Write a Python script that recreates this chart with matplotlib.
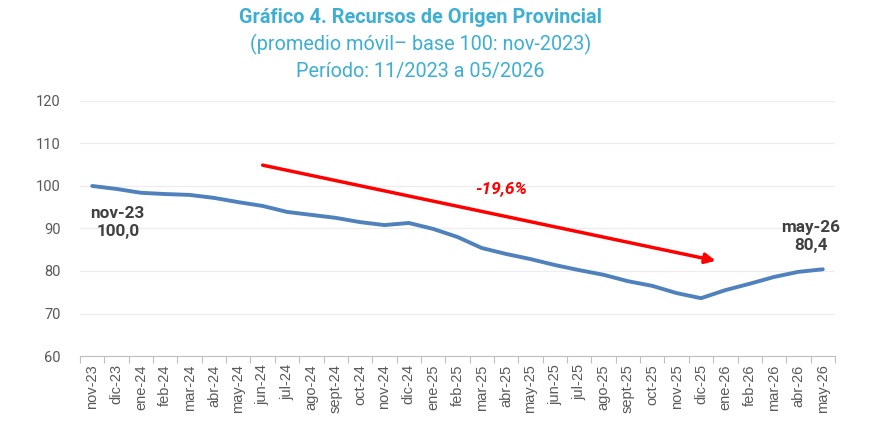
import matplotlib
matplotlib.use("Agg")
import matplotlib.pyplot as plt
import numpy as np

plt.rcParams['font.family'] = ['Roboto', 'DejaVu Sans']

# datos
meses = ['nov-23', 'dic-23', 'ene-24', 'feb-24', 'mar-24', 'abr-24', 'may-24',
         'jun-24', 'jul-24', 'ago-24', 'sept-24', 'oct-24', 'nov-24', 'dic-24',
         'ene-25', 'feb-25', 'mar-25', 'abr-25', 'may-25', 'jun-25', 'jul-25',
         'ago-25', 'sept-25', 'oct-25', 'nov-25', 'dic-25', 'ene-26', 'feb-26',
         'mar-26', 'abr-26', 'may-26']
indice = [100.0, 99.3, 98.4, 98.1, 97.9, 97.2, 96.2, 95.3, 93.9, 93.2, 92.5,
          91.5, 90.8, 91.3, 89.9, 88.0, 85.4, 84.0, 82.8, 81.4, 80.2, 79.1,
          77.6, 76.5, 74.8, 73.6, 75.5, 77.0, 78.6, 79.8, 80.4]
variacion = '-19,6%'

AZUL = '#4F81BD'
TITULO = '#3CAFD2'
GRIS = '#595959'

fig = plt.figure(figsize=(8.83, 4.26), dpi=100)
ax = fig.add_axes([0.0906, 0.1643, 0.855, 0.5987])

x = np.arange(len(meses))
ax.plot(x, indice, color=AZUL, lw=2.8, solid_joinstyle='round', solid_capstyle='round', zorder=3)

ax.set_xlim(-0.5, len(meses) - 0.5)
ax.set_ylim(60, 120)
ax.set_yticks(range(60, 121, 10))
ax.tick_params(axis='y', length=0, labelsize=10.5, labelcolor=GRIS, pad=14)
ax.set_xticks(x)
ax.set_xticklabels(meses, rotation=90, fontsize=10.5, color=GRIS, family='Liberation Sans')
ax.tick_params(axis='x', length=0, pad=6)
ax.set_xticks(np.arange(-0.5, len(meses)), minor=True)
ax.tick_params(axis='x', which='minor', length=5, color='#BFBFBF', width=0.8)

ax.grid(axis='y', color='#EDEDED', lw=0.9)
ax.set_axisbelow(True)
for s in ['top', 'right', 'left']:
    ax.spines[s].set_visible(False)
ax.spines['bottom'].set_color('#BFBFBF')

# flecha de tendencia
ax.annotate('', xy=(25.6, 82.4), xytext=(7.0, 104.9),
            arrowprops=dict(arrowstyle='-|>,head_length=0.6,head_width=0.3',
                            color='#FF0000', lw=2.5, shrinkA=0, shrinkB=0))
ax.text(16.8, 99.4, variacion, color='#FF0000', fontsize=12.5, fontweight='bold',
        fontstyle='italic', ha='center', va='center')

# etiquetas extremos
ax.text(1.05, 91.4, f"{meses[0]}\n{indice[0]:.1f}".replace('.', ','), ha='center', va='center',
        fontsize=12.3, fontweight='bold', color='#404040', linespacing=1.2)
ax.text(29.5, 88.1, f"{meses[-1]}\n{indice[-1]:.1f}".replace('.', ','), ha='center', va='center',
        fontsize=12.3, fontweight='bold', color='#404040', linespacing=1.2)

fig.text(0.476, 0.96, 'Gráfico 4. Recursos de Origen Provincial', ha='center', va='center',
         fontsize=14.3, fontweight='bold', color=TITULO)
fig.text(0.476, 0.895, '(promedio móvil– base 100: nov-2023)', ha='center', va='center',
         fontsize=14.3, color=TITULO)
fig.text(0.476, 0.833, 'Período: 11/2023 a 05/2026', ha='center', va='center',
         fontsize=14.3, color=TITULO)

fig.savefig('out.png', dpi=100)
